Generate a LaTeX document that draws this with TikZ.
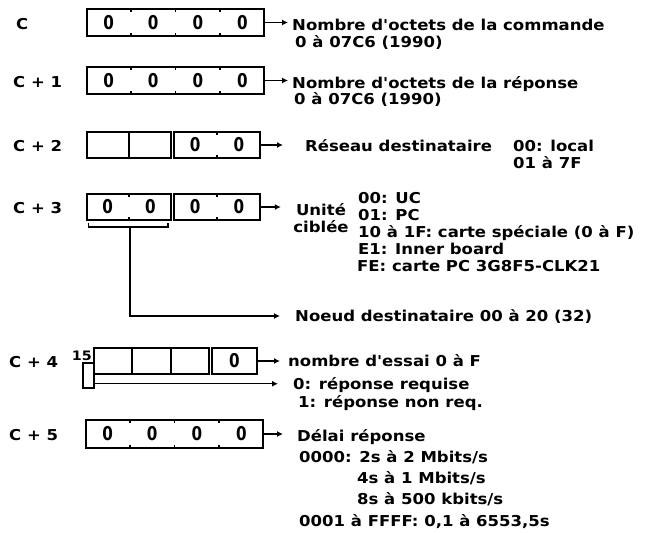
\documentclass[tikz,border=0pt]{standalone}
\usepackage{fontspec}
\usetikzlibrary{arrows.meta,calc}
\newfontfamily\lblfam{DejaVu Sans}[FakeStretch=1.1]
\newfontfamily\digfam{DejaVu Sans}[FakeStretch=0.8]
\newcommand{\lblfont}{\lblfam\bfseries\fontsize{15pt}{17pt}\selectfont}
\newcommand{\digfont}{\digfam\bfseries\fontsize{19pt}{19pt}\selectfont}
\newcommand{\bitfont}{\lblfam\bfseries\fontsize{13pt}{13pt}\selectfont}
\tikzset{
  regbox/.style={draw, line width=1.5pt, inner sep=0pt, minimum height=27pt},
  digit/.style={font=\digfont, inner sep=0pt},
  celltick/.style={line width=1.5pt},
  wire/.style={-{Latex[length=6pt,width=6pt]}, line width=1.4pt},
  txt/.style={font=\lblfont, anchor=base west, inner sep=0pt}
}
% hex digits, small ticks and full lines inside a register box
\newcommand{\celldigits}[2]{\foreach \k in {1,...,#2}
  \node[digit] (#1d\k) at ($(#1.west)!{(\k-.5)/#2}!(#1.east)$) {0};}
\newcommand{\cellticks}[2]{\foreach \k in {2,...,#2}
  {\draw[celltick] ($(#1.north west)!{(\k-1)/#2}!(#1.north east)$) -- ++(0,4);
   \draw[celltick] ($(#1.south west)!{(\k-1)/#2}!(#1.south east)$) -- ++(0,-4);}}
\newcommand{\celllines}[2]{\foreach \k in {2,...,#2}
  \draw[celltick] ($(#1.north west)!{(\k-1)/#2}!(#1.north east)$) --
    ($(#1.south west)!{(\k-1)/#2}!(#1.south east)$);}

\begin{document}
\begin{tikzpicture}[x=1pt, y=-1pt]
  \useasboundingbox (0,0) rectangle (665,533);

  \begin{scope}[shift={(0,22.5)}]
    \node[txt] (l0) at (16,6.5) {C};
    \node[regbox, minimum width=177pt] (c0) at (175.5,0) {};
    \celldigits{c0}{4}
    \cellticks{c0}{4}
    \node[txt] (t0a) at (292,7.5) {Nombre d'octets de la commande};
    \node[txt] (t0b) at (295,24.5) {0 à 07C6 (1990)};
    \draw[wire, shorten >=4pt] (c0.east) -- (c0.east -| t0a.west);
  \end{scope}

  \begin{scope}[shift={(0,80.5)}]
    \node[txt] (l1) at (13,6.5) {C + 1};
    \node[regbox, minimum width=177pt] (c1) at (175.5,0) {};
    \celldigits{c1}{4}
    \cellticks{c1}{4}
    \node[txt] (t1a) at (292,7.5) {Nombre d'octets de la réponse};
    \node[txt] (t1b) at (294,23.5) {0 à 07C6 (1990)};
    \draw[wire, shorten >=4pt] (c1.east) -- (c1.east -| t1a.west);
  \end{scope}

  \begin{scope}[shift={(0,145)}]
    \node[txt] (l2) at (13,6.5) {C + 2};
    \node[regbox, minimum width=84pt, minimum height=26pt] (c2a) at (129,0) {};
    \celllines{c2a}{2}
    \node[regbox, minimum width=86pt, minimum height=26pt] (c2b) at (217,0) {};
    \celldigits{c2b}{2}
    \cellticks{c2b}{2}
    \node[txt] (t2a) at (305,6) {Réseau destinataire};
    \node[txt] (t2b) at (513,6) {00: local};
    \node[txt] (t2c) at (513,23) {01 à 7F};
    \draw[wire, shorten >=22pt] (c2b.east) -- (c2b.east -| t2a.west);
  \end{scope}

  \begin{scope}[shift={(0,207)}]
    \node[txt] (l3) at (13,6.5) {C + 3};
    \node[regbox, minimum width=84pt, minimum height=26pt] (c3a) at (129,0) {};
    \celldigits{c3a}{2}
    \cellticks{c3a}{2}
    \node[regbox, minimum width=86pt, minimum height=26pt] (c3b) at (217,0) {};
    \celldigits{c3b}{2}
    \cellticks{c3b}{2}
    \node[txt, anchor=base] (u3a) at (321,8) {Unité};
    \node[txt, anchor=base] (u3b) at (321,25) {ciblée};
    \node[txt] (t3a) at (358,-4) {00: UC};
    \node[txt] (t3b) at (358,13) {01: PC};
    \node[txt] (t3c) at (358,30) {10 à 1F: carte spéciale (0 à F)};
    \node[txt] (t3d) at (358,47) {E1: Inner board};
    \node[txt] (t3e) at (357,64) {FE: carte PC 3G8F5-CLK21};
    \draw[wire, shorten >=15pt] (c3b.east) -- (c3b.east -| u3a.west);
    \draw[celltick] ($(c3a.south west)+(2,2)$) -- ++(0,4) -- ($(c3a.south east)+(-4,6)$) -- ++(0,-4);
    \coordinate (br3) at ($(c3a.south)+(1,6)$);
    \node[txt] (t3n) at (295,114) {Noeud destinataire 00 à 20 (32)};
    \draw[wire, shorten >=15pt] (br3) |- (t3n.west);
  \end{scope}

  \begin{scope}[shift={(0,361)}]
    \node[txt] (l4) at (9,6.5) {C + 4};
    \node[regbox, minimum width=115pt, minimum height=26pt] (c4a) at (151.5,0) {};
    \celllines{c4a}{3}
    \node[regbox, minimum width=45pt, minimum height=26pt] (c4b) at (234.5,0) {};
    \celldigits{c4b}{1}
    \node[regbox, minimum width=11pt, minimum height=25pt] (b15) at (88.5,14.5) {};
    \node[font=\bitfont, anchor=base east, inner sep=0pt] (n15) at (92,-1) {15};
    \coordinate (bit15) at ($(b15.south east)+(0,-5)$);
    \node[txt] (t4a) at (288,5) {nombre d'essai 0 à F};
    \node[txt] (t4b) at (293,28) {0: réponse requise};
    \node[txt] (t4c) at (298,46) {1: réponse non req.};
    \draw[wire, shorten >=8pt] (c4b.east) -- (c4b.east -| t4a.west);
    \draw[wire, shorten >=15pt] (bit15) -- (bit15 -| t4b.west);
  \end{scope}

  \begin{scope}[shift={(0,434)}]
    \node[txt] (l5) at (9,6.5) {C + 5};
    \node[regbox, minimum width=177pt, minimum height=28pt] (c5) at (174.5,0) {};
    \celldigits{c5}{4}
    \cellticks{c5}{4}
    \node[txt] (t5a) at (297,7) {Délai réponse};
    \node[txt] (t5b) at (299,28) {0000: 2s à 2 Mbits/s};
    \node[txt] (t5c) at (357,49) {4s à 1 Mbits/s};
    \node[txt] (t5d) at (357,70) {8s à 500 kbits/s};
    \node[txt] (t5e) at (299,92) {0001 à FFFF: 0,1 à 6553,5s};
    \draw[wire, shorten >=14pt] (c5.east) -- (c5.east -| t5a.west);
  \end{scope}
\end{tikzpicture}
\end{document}
